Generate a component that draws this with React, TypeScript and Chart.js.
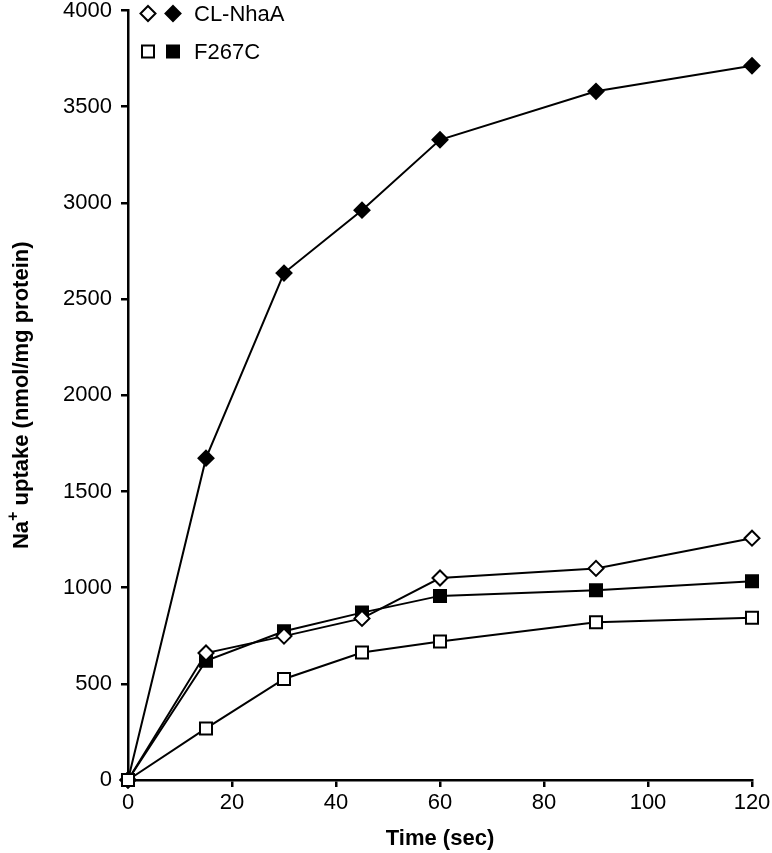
import React, { useEffect, useRef } from 'react';
import { Chart, registerables } from 'chart.js';

Chart.register(...registerables);

// ---- data ----
const timeSec = [0, 15, 30, 45, 60, 90, 120];
const clNhaAOpen = [0, 660, 748, 840, 1050, 1100, 1257];
const clNhaAFilled = [0, 1673, 2635, 2962, 3328, 3580, 3713];
const f267cOpen = [0, 268, 525, 663, 720, 820, 843];
const f267cFilled = [0, 620, 773, 870, 957, 986, 1033];

const xTicks = [0, 20, 40, 60, 80, 100, 120];
const yTicks = [0, 500, 1000, 1500, 2000, 2500, 3000, 3500, 4000];

const legendLabels = ['CL-NhaA', 'F267C'];
const xTitle = 'Time (sec)';
const yTitleMain = 'Na';
const yTitleSup = '+';
const yTitleRest = ' uptake (nmol/mg protein)';

const FONT = '"Liberation Sans", Arial, Helvetica, sans-serif';

const toXY = (ys: number[]) => timeSec.map((x, i) => ({ x, y: ys[i] }));

function drawDiamond(ctx: CanvasRenderingContext2D, x: number, y: number, r: number, filled: boolean) {
  ctx.beginPath();
  ctx.moveTo(x, y - r);
  ctx.lineTo(x + r, y);
  ctx.lineTo(x, y + r);
  ctx.lineTo(x - r, y);
  ctx.closePath();
  ctx.fillStyle = filled ? '#000' : '#fff';
  ctx.fill();
  ctx.lineWidth = 2;
  ctx.strokeStyle = '#000';
  ctx.stroke();
}

function drawSquare(ctx: CanvasRenderingContext2D, x: number, y: number, h: number, filled: boolean) {
  ctx.beginPath();
  ctx.rect(x - h, y - h, 2 * h, 2 * h);
  ctx.fillStyle = filled ? '#000' : '#fff';
  ctx.fill();
  ctx.lineWidth = 2;
  ctx.strokeStyle = '#000';
  ctx.stroke();
}

const overlayPlugin = {
  id: 'overlay',
  afterDraw(chart: any) {
    const ctx: CanvasRenderingContext2D = chart.ctx;
    const { left, right, top, bottom } = chart.chartArea;
    ctx.save();

    // legend
    const lx1 = left + 20;
    const lx2 = left + 45;
    const ly1 = top + 3;
    const ly2 = top + 41;
    drawDiamond(ctx, lx1, ly1, 7.5, false);
    drawDiamond(ctx, lx2, ly1, 7.5, true);
    drawSquare(ctx, lx1, ly2, 6, false);
    drawSquare(ctx, lx2, ly2, 6, true);
    ctx.fillStyle = '#000';
    ctx.font = `22px ${FONT}`;
    ctx.textAlign = 'left';
    ctx.textBaseline = 'middle';
    ctx.fillText(legendLabels[0], left + 66, ly1 + 1);
    ctx.fillText(legendLabels[1], left + 66, ly2 + 1);

    // x title
    ctx.font = `bold 22px ${FONT}`;
    ctx.textAlign = 'center';
    ctx.textBaseline = 'middle';
    ctx.fillText(xTitle, (left + right) / 2, bottom + 59);

    // y title with superscript
    const cx = 22;
    const cy = (top + bottom) / 2;
    ctx.font = `bold 22px ${FONT}`;
    const wMain = ctx.measureText(yTitleMain).width;
    const wRest = ctx.measureText(yTitleRest).width;
    ctx.font = `bold 16px ${FONT}`;
    const wSup = ctx.measureText(yTitleSup).width;
    const total = wMain + wSup + wRest;
    ctx.translate(cx, cy);
    ctx.rotate(-Math.PI / 2);
    ctx.textAlign = 'left';
    ctx.textBaseline = 'middle';
    let px = -total / 2;
    ctx.font = `bold 22px ${FONT}`;
    ctx.fillText(yTitleMain, px, 0);
    px += wMain;
    ctx.font = `bold 16px ${FONT}`;
    ctx.fillText(yTitleSup, px, -8);
    px += wSup;
    ctx.font = `bold 22px ${FONT}`;
    ctx.fillText(yTitleRest, px, 0);

    ctx.restore();
  },
};

export default function App() {
  const canvasRef = useRef<HTMLCanvasElement | null>(null);

  useEffect(() => {
    document.body.style.margin = '0';
    const canvas = canvasRef.current;
    if (!canvas) return;

    const common = {
      borderColor: '#000',
      borderWidth: 2,
      pointBorderColor: '#000',
      pointBorderWidth: 2,
      tension: 0,
      clip: false as any,
    };

    const chart = new Chart(canvas, {
      type: 'line',
      data: {
        datasets: [
          {
            ...common,
            label: 'F267C (open)',
            data: toXY(f267cOpen),
            pointStyle: 'rect',
            pointRadius: 8.5,
            pointBackgroundColor: '#fff',
            backgroundColor: '#fff',
          },
          {
            ...common,
            label: 'CL-NhaA (open)',
            data: toXY(clNhaAOpen),
            pointStyle: 'rectRot',
            pointRadius: 7.5,
            pointBackgroundColor: '#fff',
            backgroundColor: '#fff',
          },
          {
            ...common,
            label: 'F267C (filled)',
            data: toXY(f267cFilled),
            pointStyle: 'rect',
            pointRadius: 8.5,
            pointBackgroundColor: '#000',
            backgroundColor: '#000',
          },
          {
            ...common,
            label: 'CL-NhaA (filled)',
            data: toXY(clNhaAFilled),
            pointStyle: 'rectRot',
            pointRadius: 7.5,
            pointBackgroundColor: '#000',
            backgroundColor: '#000',
          },
        ],
      },
      options: {
        responsive: false,
        animation: false,
        maintainAspectRatio: false,
        layout: { padding: { left: 0, top: 10, right: 20, bottom: 0 } },
        plugins: {
          legend: { display: false },
          tooltip: { enabled: false },
        },
        scales: {
          x: {
            type: 'linear',
            min: 0,
            max: 120,
            afterBuildTicks: (s: any) => {
              s.ticks = xTicks.map((v) => ({ value: v }));
            },
            afterFit: (s: any) => {
              s.height = 73;
              s.paddingLeft = 0;
              s.paddingRight = 0;
            },
            grid: {
              display: true,
              drawOnChartArea: false,
              drawTicks: true,
              tickLength: 7,
              color: '#000',
              lineWidth: 2.5,
            },
            border: { display: true, color: '#000', width: 2.5 },
            ticks: {
              color: '#000',
              font: { family: FONT, size: 22 },
              padding: 3,
              maxRotation: 0,
              autoSkip: false,
              callback: (v: any) => String(v),
            },
          },
          y: {
            type: 'linear',
            min: 0,
            max: 4000,
            afterBuildTicks: (s: any) => {
              s.ticks = yTicks.map((v) => ({ value: v }));
            },
            afterFit: (s: any) => {
              s.width = 128;
              s.paddingTop = 0;
              s.paddingBottom = 0;
            },
            grid: {
              display: true,
              drawOnChartArea: false,
              drawTicks: true,
              tickLength: 7,
              color: '#000',
              lineWidth: 2.5,
            },
            border: { display: true, color: '#000', width: 2.5 },
            ticks: {
              color: '#000',
              font: { family: FONT, size: 22 },
              padding: 9,
              autoSkip: false,
              callback: (v: any) => String(v),
            },
          },
        },
      },
      plugins: [overlayPlugin],
    });

    return () => chart.destroy();
  }, []);

  return (
    <div style={{ width: 772, height: 853 }}>
      <canvas ref={canvasRef} width={772} height={853} style={{ display: 'block' }} />
    </div>
  );
}
